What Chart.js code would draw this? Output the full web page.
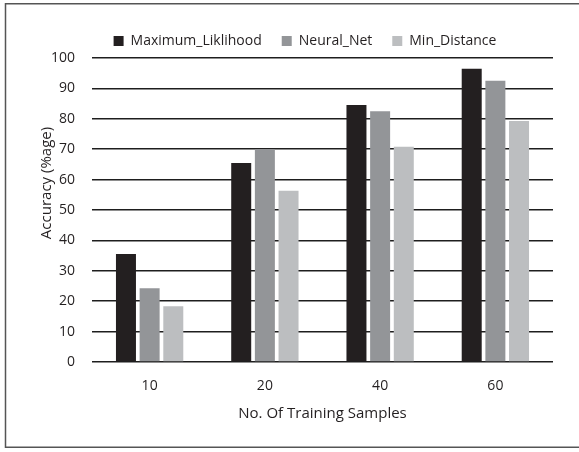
<!DOCTYPE html>
<html>
<head>
<meta charset="utf-8">
<script src="https://cdn.jsdelivr.net/npm/chart.js@4/dist/chart.umd.min.js"></script>
<style>
  html, body { margin: 0; padding: 0; background: #fff; }
  #wrap { width: 579px; height: 452px; position: relative; }
</style>
</head>
<body>
<div id="wrap"><canvas id="c" width="579" height="452"></canvas></div>
<script>
const categories = ['10', '20', '40', '60'];
const maximumLikelihood = [35.5, 65.5, 84.5, 96.5];
const neuralNet = [24.3, 70, 82.5, 92.5];
const minDistance = [18.3, 56.3, 70.8, 79.3];
const seriesNames = ['Maximum_Liklihood', 'Neural_Net', 'Min_Distance'];
const seriesColors = ['#231f20', '#939598', '#bcbec0'];
const yTitle = 'Accuracy (%age)';
const xTitle = 'No. Of Training Samples';

const FONT = "'Open Sans', 'DejaVu Sans', sans-serif";
const TEXT = '#231f20';

const frame = {
  id: 'frame',
  afterLayout(chart) {
    // shift the legend box so its items are centred like the reference
    if (chart.legend) { chart.legend.left = 57; }
  },
  beforeDraw(chart) {
    const ctx = chart.ctx;
    ctx.save();
    ctx.fillStyle = '#fff';
    ctx.fillRect(0, 0, chart.width, chart.height);
    ctx.strokeStyle = '#555';
    ctx.lineWidth = 1.5;
    ctx.strokeRect(5.5, 3.75, 580, 443.5);
    ctx.restore();
  },
  afterDraw(chart) {
    const ctx = chart.ctx;
    ctx.save();
    ctx.font = "15px " + FONT;
    ctx.fillStyle = TEXT;
    ctx.textAlign = 'center';
    ctx.textBaseline = 'middle';
    ctx.translate(47, 183);
    ctx.rotate(-Math.PI / 2);
    ctx.fillText(yTitle, 0, 0);
    ctx.restore();
  }
};

new Chart(document.getElementById('c'), {
  type: 'bar',
  data: {
    labels: categories,
    datasets: [
      { label: seriesNames[0], data: maximumLikelihood, backgroundColor: seriesColors[0] },
      { label: seriesNames[1], data: neuralNet, backgroundColor: seriesColors[1] },
      { label: seriesNames[2], data: minDistance, backgroundColor: seriesColors[2] }
    ]
  },
  options: {
    responsive: false,
    animation: false,
    devicePixelRatio: 1,
    layout: { padding: { top: 14, right: 26, left: 0, bottom: 0 } },
    datasets: { bar: { categoryPercentage: 0.616, barPercentage: 0.845 } },
    plugins: {
      legend: {
        position: 'top',
        labels: {
          boxWidth: 10, boxHeight: 10, padding: 20,
          color: TEXT,
          font: { family: FONT, size: 14 }
        }
      },
      tooltip: { enabled: false }
    },
    scales: {
      x: {
        grid: { display: false, drawTicks: false },
        border: { display: false },
        ticks: { color: TEXT, padding: 16, font: { family: FONT, size: 14 } },
        title: { display: true, text: xTitle, color: TEXT, font: { family: FONT, size: 15 }, padding: { top: 0, bottom: 29 } },
        afterFit(s) { s.height = 90; }
      },
      y: {
        min: 0, max: 100,
        ticks: { stepSize: 10, color: TEXT, padding: 17, font: { family: FONT, size: 14 } },
        grid: { color: '#1e1e1e', lineWidth: 1.6, drawTicks: false },
        border: { display: false },
        afterFit(s) { s.width = 92; }
      }
    }
  },
  plugins: [frame]
});
</script>
</body>
</html>
